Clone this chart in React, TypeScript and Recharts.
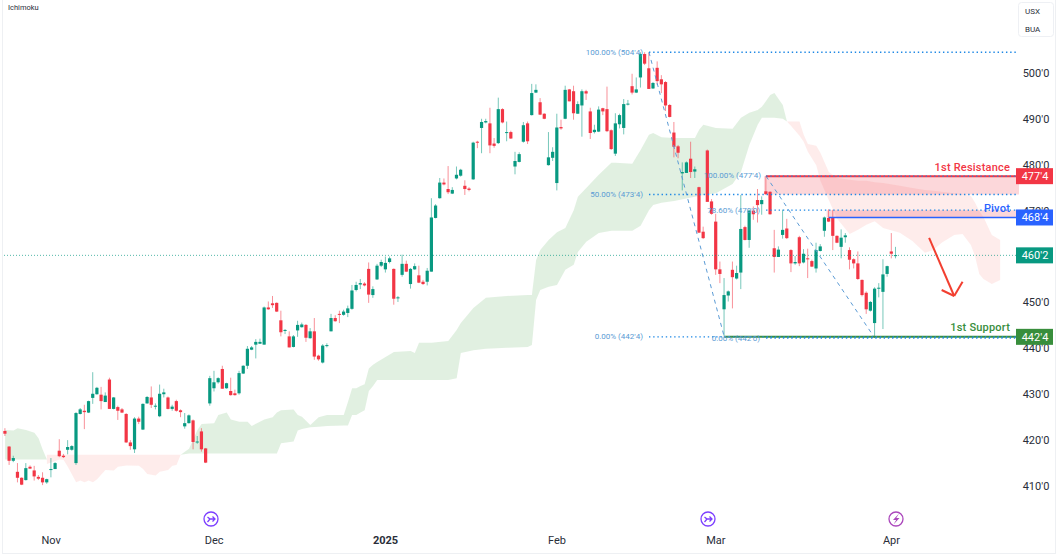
import React from "react";
import { ComposedChart, Area, Bar, XAxis, YAxis, ReferenceLine, ReferenceArea } from "recharts";

const opens = [
422.0,418.6,415.5,413.1,411.8,411.3,414.2,413.4,412.0,411.8,
410.8,413.6,413.7,417.7,416.6,417.9,417.9,415.0,425.7,426.4,
426.0,429.2,430.0,429.9,428.3,433.2,426.8,427.2,426.7,425.7,
419.5,418.0,424.7,422.3,428.0,429.3,427.4,425.2,430.0,429.3,
426.8,428.5,426.5,423.0,423.7,424.3,419.5,421.9,418.2,428.0,
431.3,432.6,435.5,431.3,430.7,430.2,430.2,434.5,436.2,439.7,
440.8,441.0,440.8,448.9,449.8,449.9,446.1,443.8,442.6,440.3,
443.9,444.6,445.1,442.2,443.7,438.4,436.9,440.5,443.7,446.6,
447.5,447.3,447.7,448.6,452.7,453.9,454.1,457.3,451.6,455.0,
458.0,457.2,458.8,457.3,450.9,456.0,458.4,454.0,457.2,455.9,
454.5,454.5,456.7,468.4,472.7,476.1,474.7,473.7,477.0,477.6,
475.4,474.8,476.8,485.0,488.0,489.2,489.0,484.6,484.7,492.1,
486.9,487.1,479.6,480.6,485.0,489.0,490.8,495.7,493.6,491.1,
479.9,481.5,476.0,488.2,490.0,496.4,496.0,491.1,492.9,496.0,
491.6,487.1,487.2,492.3,492.1,487.5,482.4,488.8,488.0,493.1,
497.1,495.7,499.0,504.1,501.0,496.6,501.1,498.6,498.0,493.0,
487.0,484.0,478.1,478.2,481.3,478.5,475.1,465.4,483.1,472.0,
467.6,457.2,448.5,451.5,457.1,455.2,456.5,466.4,463.6,470.0,
472.3,471.4,474.2,474.1,461.8,459.9,464.7,466.1,461.4,458.5,
464.2,458.7,459.6,459.0,457.4,461.2,465.6,468.4,468.6,464.5,
462.1,464.2,461.4,459.4,458.5,454.9,452.1,448.2,445.5,453.0,
452.3,456.2,461.1,460.1,
];
const highs = [
422.6,418.7,416.6,415.0,411.9,415.0,414.5,414.4,412.4,413.0,
411.6,416.1,415.2,420.2,417.0,420.0,418.9,426.1,427.0,427.7,
428.6,434.8,431.6,431.6,430.4,433.6,429.4,427.5,427.0,425.9,
420.0,425.0,425.1,428.0,429.6,431.7,428.0,432.1,431.2,429.5,
427.7,428.8,426.7,425.9,425.6,424.5,420.9,422.6,418.3,434.0,
435.1,433.7,436.2,432.5,433.6,431.0,435.1,436.3,440.5,440.5,
442.0,442.1,449.1,450.2,451.4,450.0,448.2,444.2,443.7,442.9,
446.0,445.6,445.3,444.4,446.6,438.6,440.9,441.1,447.5,447.2,
448.2,448.4,449.3,453.8,454.5,455.1,454.4,458.7,453.5,458.4,
459.3,460.0,460.0,457.4,451.4,460.4,459.1,457.5,458.5,458.0,
454.9,457.5,472.7,471.4,477.1,477.0,479.7,475.1,479.6,479.1,
476.6,475.1,485.0,485.2,490.0,490.0,492.4,485.8,494.6,492.3,
489.4,487.4,482.8,482.7,489.3,489.4,497.6,497.5,494.5,491.2,
487.1,483.8,491.1,489.8,497.2,496.5,497.2,493.8,496.4,496.3,
492.4,488.7,492.7,492.4,497.0,487.7,491.2,491.1,494.3,494.1,
499.8,499.0,504.5,504.5,504.4,498.0,502.5,499.5,498.2,493.2,
489.3,484.3,480.5,480.7,485.0,479.6,475.2,466.5,483.3,472.5,
469.3,458.9,455.3,452.6,458.9,458.0,473.4,466.7,470.2,470.9,
474.7,473.1,477.6,474.2,465.8,462.2,470.2,468.2,461.6,460.1,
464.5,461.6,461.7,459.3,463.0,462.7,468.7,470.3,470.2,464.6,
465.9,465.1,462.0,459.6,461.1,455.0,452.4,450.3,453.3,454.2,
459.4,458.0,465.1,462.1,
];
const lows = [
420.9,414.6,415.2,410.8,410.2,411.2,413.7,411.2,411.3,410.2,
410.5,411.9,413.7,416.3,416.1,416.9,417.7,414.6,425.6,422.4,
425.9,427.9,429.9,426.7,428.3,426.8,426.7,424.4,425.9,419.4,
417.9,417.2,423.5,422.2,427.9,427.0,426.7,425.0,429.3,426.7,
426.4,426.2,425.0,422.5,423.6,418.0,419.2,417.5,415.0,427.5,
430.6,432.3,431.2,431.2,429.7,429.7,429.9,434.4,435.5,439.6,
437.8,441.0,440.8,448.4,448.8,447.9,442.6,443.1,440.2,440.2,
442.5,444.5,441.4,442.1,437.5,437.3,436.7,440.2,443.7,445.8,
445.5,447.1,446.8,448.4,452.4,452.9,453.5,449.9,451.0,454.9,
457.7,456.5,458.5,449.5,450.1,455.6,456.6,453.0,457.1,454.2,
453.8,453.7,456.7,468.3,472.6,475.5,473.6,473.6,476.8,477.4,
473.4,474.2,476.7,483.6,482.5,489.0,482.5,483.7,484.5,489.0,
485.1,485.6,477.9,480.5,484.8,484.5,490.7,495.6,490.8,489.9,
479.8,480.8,474.4,487.6,489.9,493.8,489.8,491.1,486.1,494.1,
485.6,486.8,487.1,490.8,487.1,483.2,481.9,487.9,486.6,492.9,
495.3,495.6,496.8,501.7,496.5,496.5,497.4,495.6,491.7,490.3,
481.6,481.4,474.4,478.2,477.1,477.1,465.1,463.8,472.0,469.1,
456.0,454.2,442.7,450.2,448.7,455.0,452.9,463.5,461.9,468.0,
467.4,469.1,473.4,469.1,456.5,459.9,463.9,463.8,456.6,458.2,
457.9,458.5,455.3,457.7,456.5,461.1,464.3,467.5,461.4,462.9,
459.6,463.0,457.2,457.4,454.9,451.3,447.5,448.0,442.6,451.1,
444.2,455.6,459.6,459.6,
];
const closes = [
421.4,415.5,416.1,411.8,410.3,413.9,413.8,412.1,411.6,410.8,
411.5,413.7,415.0,416.5,416.3,418.5,418.7,425.9,426.7,426.1,
428.5,430.1,431.4,428.5,429.7,426.8,429.3,426.4,426.0,419.5,
418.7,424.7,424.0,427.9,429.4,427.7,427.5,430.1,430.4,426.8,
427.3,426.4,426.1,423.7,425.4,419.6,419.7,418.0,415.1,433.5,
432.6,433.5,431.2,432.4,429.8,429.8,434.6,436.2,439.9,440.2,
441.4,441.4,448.9,448.5,449.4,448.0,443.5,444.0,440.2,442.6,
445.1,445.2,442.3,443.7,438.2,437.6,440.6,440.7,446.6,445.9,
447.3,448.0,448.7,452.6,453.8,454.2,453.7,451.7,452.9,458.0,
458.8,458.6,459.6,450.8,451.1,458.4,456.7,457.3,457.9,454.3,
454.0,456.9,468.5,471.1,476.1,475.7,474.0,474.5,477.8,478.9,
474.7,474.5,484.8,484.8,489.3,489.5,484.2,484.1,492.1,489.2,
487.1,485.7,480.8,482.3,488.6,485.1,495.6,496.3,490.9,490.0,
481.6,482.8,488.1,487.9,496.3,493.8,491.2,493.2,496.0,495.5,
486.9,487.6,492.0,491.6,487.3,483.4,489.0,490.8,493.2,493.3,
495.7,496.4,504.1,502.0,496.5,497.8,498.2,497.5,492.9,490.4,
483.9,482.6,478.4,480.5,478.4,479.0,465.2,464.0,471.9,469.3,
457.2,456.2,451.6,452.4,455.5,456.4,466.0,463.6,470.0,469.2,
471.2,472.3,473.6,469.2,459.9,461.5,465.8,464.0,458.5,458.8,
458.5,460.6,459.4,457.8,461.4,462.2,468.5,467.6,464.5,463.0,
464.1,464.6,459.3,458.5,455.1,451.6,448.5,450.1,453.0,453.2,
456.1,457.9,460.6,460.3,
];

const green1Idx = [0, 2, 3, 5, 7, 8, 9, 10];
const green1Upper = [422.2, 422.1, 422.6, 422.2, 421.6, 420.4, 417.9, 415.8];
const green1Lower = [415.8, 415.8, 415.8, 415.8, 415.8, 415.8, 415.8, 415.8];

const red1Idx = [10, 13, 14, 15, 17, 18, 19, 20, 21, 22, 24, 26, 27, 29, 32, 33, 34, 36, 37, 39, 40, 41, 42];
const red1Upper = [416.8, 416.8, 416.8, 416.8, 416.8, 416.8, 416.8, 416.8, 416.8, 416.8, 416.8, 416.8, 416.8, 416.8, 416.8, 416.8, 416.8, 416.8, 416.8, 416.8, 416.8, 416.8, 416.8];
const red1Lower = [414.8, 415.8, 415.7, 414.2, 410.8, 411.2, 410.8, 411.2, 410.8, 411.5, 413.5, 413.4, 414.2, 414.5, 414.4, 413.7, 412.6, 412.3, 413.1, 413.5, 414.4, 414.6, 416.8];

const green2Idx = [42,44,46,47,50,51,53,54,56,58,59,62,64,65,66,69,70,71,73,75,77,81,82,83,84,85,86,87,88,89,91,93,97,98,99,102,106,108,109,112,115,120,125,126,127,128,130,132,134,136,137,139,142,145,146,150,152,154,155,157,160,165,166,167,170,174,176,178,180,181,183,184,186,187];
const green2Upper = [416.8,418.1,422.2,423.5,423.7,425.5,426.0,424.5,424.0,424.0,423.1,424.5,425.0,426.0,426.5,426.7,425.5,425.1,423.3,425.0,425.5,425.5,428.3,431.3,431.3,431.8,432.2,435.6,436.4,437.0,438.1,439.2,439.4,439.0,441.2,441.2,441.6,444.0,445.5,448.8,451.0,451.4,451.6,451.6,459.2,461.4,463.6,465.3,466.2,470.1,473.0,474.9,477.8,480.4,480.4,480.2,483.2,486.5,486.9,486.0,485.8,485.8,487.6,488.7,488.0,487.8,490.2,491.3,491.9,492.6,495.2,495.6,493.0,489.4];
const green2Lower = [416.8,417.1,417.1,417.1,417.1,417.1,417.1,417.1,417.1,417.1,417.1,417.1,417.1,417.1,419.3,419.7,422.1,422.4,422.8,422.9,423.1,423.2,423.2,425.5,425.5,426.0,426.5,430.7,431.8,433.1,433.1,433.1,433.1,433.1,433.1,433.1,433.1,433.5,439.0,439.6,439.9,440.1,440.3,440.7,450.5,452.7,453.4,453.8,457.1,458.2,461.0,463.2,465.1,465.6,465.6,465.6,466.7,470.1,471.2,471.7,472.1,473.0,473.2,473.4,473.8,475.8,478.4,484.3,488.7,490.2,490.2,490.2,490.0,489.4];

const red2Idx = [187,188,190,191,192,194,195,197,199,202,204,206,208,210,214,217,220,222,224,227,229,231,232,233,234,236,238];
const red2Upper = [489.4,489.4,489.4,486.5,484.5,484.1,482.6,478.4,477.1,476.7,476.5,476.5,476.2,476.0,475.4,474.9,474.5,474.3,474.1,473.8,473.6,473.2,471.7,469.9,468.6,464.7,463.6];
const red2Lower = [489.4,488.4,486.3,485.0,482.8,479.9,476.5,472.3,468.2,464.9,465.8,466.9,467.7,466.2,465.2,463.4,460.8,461.4,463.0,464.7,464.9,462.5,460.0,456.2,455.1,454.0,454.9];

const SLOTS = 243;
const monthTicks = [11, 50, 91, 132, 170, 212];
const monthLabels = ["Nov", "Dec", "2025", "Feb", "Mar", "Apr"];
const priceTicks = [410, 420, 430, 440, 450, 460, 470, 480, 490, 500];
const tagPrices = [477.5, 468.5, 460.25, 442.5];
const tagColors = ["#f23645", "#2962ff", "#089981", "#388e3c"];
const fibLevels: [number, number][] = [[504.5, 154], [473.5, 154], [442.5, 154], [477.5, 182], [470.1, 182], [442.25, 182]];
const fibLegs: [number, number, number, number][] = [[154, 504.5, 172, 442.5], [182, 477.5, 208, 442.25]];
const arrowLegs: [number, number, number, number][] = [[221, 464.05, 227, 451.4], [224, 452.7, 227, 451.4], [229, 454.5, 227, 451.4]];
const fibLabels: [string, number, number][] = [
  ["100.00% (504'4)", 643, 55],
  ["50.00% (473'4)", 643, 197],
  ["0.00% (442'4)", 643, 339],
  ["100.00% (477'4)", 761, 178],
  ["78.60% (470'0)", 760, 213],
  ["0.00% (442'0)", 760, 341],
];

const lookup = (ids: number[], vals: number[], lo: number[], i: number) => {
  const k = ids.indexOf(i);
  return k < 0 ? undefined : [lo[k], vals[k]];
};

const rows = Array.from({ length: SLOTS }, (_, i) => ({
  idx: i,
  open: opens[i],
  close: closes[i],
  high: highs[i],
  low: lows[i],
  wick: i < opens.length ? [lows[i], highs[i]] : undefined,
  green1: lookup(green1Idx, green1Upper, green1Lower, i),
  red1: lookup(red1Idx, red1Upper, red1Lower, i),
  green2: lookup(green2Idx, green2Upper, green2Lower, i),
  red2: lookup(red2Idx, red2Upper, red2Lower, i),
}));

const FONT = "Roboto, sans-serif";
const fmtPrice = (v: number) => {
  const whole = Math.floor(v);
  return `${whole}'${Math.round((v - whole) * 8)}`;
};

const Candle = (props: any) => {
  const { x, y, width, height, payload } = props;
  if (!payload || payload.high == null || !height) return null;
  const h = Math.abs(height);
  const perUnit = h / (payload.high - payload.low);
  const up = payload.close >= payload.open;
  const color = up ? "#089981" : "#f23645";
  const cx = x + width / 2;
  const top = y + (payload.high - Math.max(payload.open, payload.close)) * perUnit;
  const bodyH = Math.max(Math.abs(payload.open - payload.close) * perUnit, 1);
  return (
    <g>
      <line x1={cx} x2={cx} y1={y} y2={y + h} stroke={color} strokeWidth={1} strokeOpacity={0.55} />
      <rect x={cx - 1.6} y={top} width={3.2} height={bodyH} fill={color} />
    </g>
  );
};

const XTick = (props: any) => {
  const { x, payload } = props;
  const k = monthTicks.indexOf(payload.value);
  const label = monthLabels[k];
  return (
    <text x={x} y={544} textAnchor="middle" fontFamily={FONT} fontSize={11} fill="#2a2e39" fontWeight={label === "2025" ? 700 : 400}>
      {label}
    </text>
  );
};

const YTick = (props: any) => {
  const { y, payload } = props;
  const k = tagPrices.indexOf(payload.value);
  if (k >= 0) {
    return (
      <g>
        <rect x={1016} y={y - 8} width={37} height={16} fill={tagColors[k]} />
        <text x={1035} y={y + 4} textAnchor="middle" fontFamily={FONT} fontSize={11} fill="#ffffff">
          {fmtPrice(payload.value)}
        </text>
      </g>
    );
  }
  return (
    <text x={1036} y={y + 4} textAnchor="middle" fontFamily={FONT} fontSize={11} fill="#2a2e39">
      {fmtPrice(payload.value)}
    </text>
  );
};

const noDot = { dot: false, activeDot: false, isAnimationActive: false, connectNulls: true, stroke: "none", legendType: "none" as const };

export default function App() {
  return (
    <div style={{ position: "absolute", left: 0, top: 0, width: 1064, height: 557, background: "#fff", overflow: "hidden" }}>
      <div style={{ position: "absolute", left: 2, top: -2, width: 1052, height: 554, border: "1px solid #eef0f3" }} />
      <div style={{ position: "absolute", left: 0, top: 0 }}>
        <ComposedChart width={1064} height={557} data={rows} margin={{ top: 4, right: 0, bottom: 0, left: 3 }}>
          <XAxis dataKey="idx" scale="band" height={48} ticks={monthTicks} interval={0} tick={<XTick />} axisLine={false} tickLine={false} />
          <YAxis orientation="right" width={45} domain={[405, 515]} allowDataOverflow ticks={[...priceTicks, ...tagPrices]} interval={0} tick={<YTick />} axisLine={false} tickLine={false} />
          <Area dataKey="green1" fill="#43a047" fillOpacity={0.16} {...noDot} />
          <Area dataKey="red1" fill="#f44336" fillOpacity={0.1} {...noDot} />
          <Area dataKey="green2" fill="#43a047" fillOpacity={0.16} {...noDot} />
          <Area dataKey="red2" fill="#f44336" fillOpacity={0.1} {...noDot} />
          <ReferenceArea x1={182} x2={242} y1={473.5} y2={477.5} fill="#f23645" fillOpacity={0.2} stroke="none" ifOverflow="visible" />
          <ReferenceArea x1={197} x2={242} y1={468.5} y2={470.1} fill="#f23645" fillOpacity={0.2} stroke="none" ifOverflow="visible" />
          <ReferenceLine y={460.25} stroke="#089981" strokeOpacity={0.7} strokeWidth={1} strokeDasharray="1 2" />
          <Bar dataKey="wick" shape={<Candle />} isAnimationActive={false} legendType="none" />
          {fibLegs.map((s, i) => (
            <ReferenceLine key={`leg${i}`} segment={[{ x: s[0], y: s[1] }, { x: s[2], y: s[3] }]} stroke="#5b9bd5" strokeWidth={1} strokeDasharray="4 4" ifOverflow="visible" />
          ))}
          <ReferenceLine segment={[{ x: 182, y: 477.5 }, { x: 242, y: 477.5 }]} stroke="#f23645" strokeWidth={2} ifOverflow="visible" />
          <ReferenceLine segment={[{ x: 197, y: 468.5 }, { x: 242, y: 468.5 }]} stroke="#2962ff" strokeWidth={1.5} ifOverflow="visible" />
          <ReferenceLine segment={[{ x: 172, y: 442.5 }, { x: 242, y: 442.5 }]} stroke="#388e3c" strokeWidth={2} ifOverflow="visible" />
          {fibLevels.map((f, i) => (
            <ReferenceLine key={`fib${i}`} segment={[{ x: f[1], y: f[0] }, { x: 242, y: f[0] }]} stroke="#1e88e5" strokeWidth={1.4} strokeDasharray="1.4 2.8" ifOverflow="visible" />
          ))}
          {arrowLegs.map((s, i) => (
            <ReferenceLine key={`arrow${i}`} segment={[{ x: s[0], y: s[1] }, { x: s[2], y: s[3] }]} stroke="#f23f30" strokeWidth={2} ifOverflow="visible" />
          ))}
        </ComposedChart>
      </div>
      <svg width={1064} height={557} style={{ position: "absolute", left: 0, top: 0, pointerEvents: "none" }}>
        <text x={8} y={10} fontFamily={FONT} fontSize={7.5} fill="#2a2e39">Ichimoku</text>
        <rect x={1018.5} y={2.5} width={35} height={34} rx={3} fill="#fff" stroke="#eef0f4" />
        <text x={1025} y={14} fontFamily={FONT} fontSize={8} fill="#2a2e39">USX</text>
        <text x={1025} y={32} fontFamily={FONT} fontSize={8} fill="#2a2e39">BUA</text>
        {fibLabels.map(([t, x, y]) => (
          <text key={t} x={x} y={y} textAnchor="end" fontFamily={FONT} fontSize={8} fill="#5a9bd4">{t}</text>
        ))}
        <text x={1010} y={171} textAnchor="end" fontFamily={FONT} fontSize={11} fontWeight={500} letterSpacing={0.2} fill="#f23645">1st Resistance</text>
        <text x={1010} y={212} textAnchor="end" fontFamily={FONT} fontSize={11} fontWeight={500} letterSpacing={0.2} fill="#2962ff">Pivot</text>
        <text x={1010} y={331} textAnchor="end" fontFamily={FONT} fontSize={11} fontWeight={500} letterSpacing={0.2} fill="#388e3c">1st Support</text>
        {[[211, "#7c3fff"], [708, "#7c3fff"]].map(([cx, c]) => (
          <g key={String(cx)} fill="none" stroke={String(c)} strokeWidth={1.3}>
            <circle cx={Number(cx)} cy={519} r={7} />
            <path d={`M${Number(cx) - 3.5} 517 l2.5 2 h5 m-2.5 -2.5 l2.5 2.5 l-2.5 2.5 M${Number(cx) - 1} 519 l-2.5 3`} />
          </g>
        ))}
        <circle cx={896} cy={519} r={7} fill="none" stroke="#ab47bc" strokeWidth={1.3} />
        <path d="M899 513.5 L893 520 h3.2 L893.5 524.5 L899.5 518 h-3.2 z" fill="#ab47bc" />
      </svg>
    </div>
  );
}
